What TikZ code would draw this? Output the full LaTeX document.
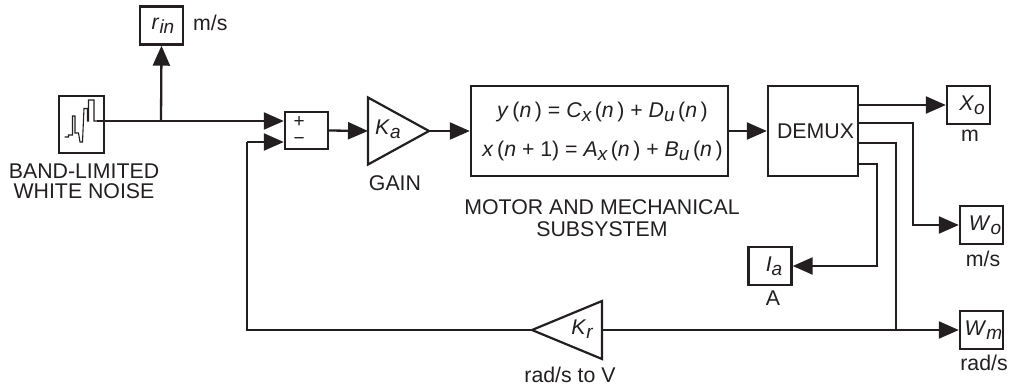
\documentclass[tikz,border=0pt]{standalone}
\usepackage{fontspec}
\setmainfont{Liberation Sans}
\usetikzlibrary{arrows.meta,shapes.geometric}
\definecolor{inkgray}{HTML}{231F20}
\newcommand{\lowsub}[1]{\raisebox{-4pt}{\fontsize{19}{19}\selectfont\itshape #1}}
\newcommand{\ital}[1]{\textit{#1}}
\tikzset{
  sig/.style={line width=2.3pt, inkgray, -{Triangle[length=20pt,width=17pt]}},
  wire/.style={line width=2.3pt, inkgray},
  blockbox/.style={draw=inkgray, line width=2.4pt, inner sep=0pt, text=inkgray, font=\fontsize{21.3}{20}\selectfont},
  portbox/.style={blockbox, minimum width=43pt, minimum height=38pt},
  gaintri/.style={draw=inkgray, line width=2.2pt, isosceles triangle, isosceles triangle stretches, inner sep=0pt, outer sep=0pt},
  caption/.style={inner sep=0pt, text=inkgray, font=\fontsize{21.3}{20}\selectfont, align=center},
}
\begin{document}
\begin{tikzpicture}[x=1pt,y=-1pt]
        \useasboundingbox (0,0) rectangle (1012,389);
        % source and tap
        \node [blockbox, minimum width=45pt, minimum height=57pt] (noise) at (81.5,124.5) {};
        \draw [inkgray, line width=1.1pt] (64.5,137) -- (68.5,137) -- (68.5,135) -- (72.5,135) -- (72.5,116) -- (75,116) -- (75,133) -- (78.5,133) -- (80,142) -- (82.5,142) -- (84,108.5) -- (87.5,108.5) -- (87.5,121) -- (88.5,121) -- (88.5,100) -- (94,100) -- (94,121) -- (98,121);
        \coordinate (noiseout) at (97,121);
        \coordinate (tap) at (161,121);
        \node [caption] (noisetxt) at (84,181) {BAND-LIMITED\\WHITE NOISE};
        \node [portbox] (rin) at (161.5,25.5) {\hspace{3pt}\ital{r}\lowsub{in}};
        \node [caption, anchor=west] (rinunit) at (193,23) {m/s};
        % forward path
        \node [blockbox, minimum width=43pt, minimum height=37pt, align=center, font=\fontsize{19}{20}\selectfont] (sum) at (306.5,130.5) {\hspace*{-13pt}+\\[-3pt]\hspace*{-13pt}−};
        \node [gaintri, minimum width=67pt, minimum height=61pt, anchor=apex] (ka) at (429,131) {};
        \node [caption] (katxt) at (388,129) {\ital{K}\lowsub{a}};
        \node [caption] (gaintxt) at (395,183) {GAIN};
        \node [blockbox, minimum width=257pt, minimum height=90pt, align=center] (motor) at (599.5,131) {\hspace*{6pt}\ital{y}\,(\ital{n}\,) = \ital{C}\lowsub{x}\,(\ital{n}\,) + \ital{D}\lowsub{u}\,(\ital{n}\,)\\[19pt]\hspace*{6pt}\ital{x}\,(\ital{n} + 1) = \ital{A}\lowsub{x}\,(\ital{n}\,) + \ital{B}\lowsub{u}\,(\ital{n}\,)};
        \node [caption] (motortxt) at (602,218) {MOTOR AND MECHANICAL\\[2pt]SUBSYSTEM};
        \node [blockbox, minimum width=90pt, minimum height=90pt] (demux) at (813,131) {\hspace{5pt}DEMUX};
        % outputs
        \node [portbox] (xo) at (968.5,105) {\hspace{7pt}\ital{X}\lowsub{o}};
        \node [caption] (xounit) at (970,136) {m};
        \node [portbox] (wo) at (981.5,225) {\hspace{7pt}\ital{W}\lowsub{o}};
        \node [caption] (wounit) at (983,259) {m/s};
        \node [portbox] (ia) at (770,266) {\hspace{8pt}\ital{I}\lowsub{a}};
        \node [caption] (iaunit) at (773,298) {A};
        \node [portbox] (wm) at (981.5,330) {\hspace{4pt}\ital{W}\lowsub{m}};
        \node [caption] (wmunit) at (984,363) {rad/s};
        % feedback
        \node [gaintri, shape border rotate=180, minimum width=58pt, minimum height=70pt, anchor=apex] (kr) at (532,330) {};
        \node [caption] (krtxt) at (582,329) {\ital{K}\lowsub{r}};
        \node [caption] (krunit) at (570,375) {rad/s to V};
        \coordinate (porta) at (858,105);
        \coordinate (portb) at (858,123);
        \coordinate (portc) at (858,143);
        \coordinate (portd) at (858,164);
        \coordinate (turnb) at (913,123);
        \coordinate (turnc) at (896,143);
        \coordinate (turnd) at (877,164);
        \coordinate (merge) at (896,330);
        \coordinate (back) at (247,330);
        \coordinate (backup) at (247,142);
        \draw [wire] (noiseout) -- (tap);
        \draw [sig] (tap) -- (rin.south);
        \draw [sig] (tap) -- (tap -| sum.west);
        \draw [sig] (backup) -- (backup -| sum.west);
        \draw [sig] (sum.east) -- (ka.lower side);
        \draw [sig] (ka.apex) -- (motor.west);
        \draw [sig] (motor.east) -- (demux.west);
        \draw [sig] (porta) -- (xo.west);
        \draw [sig] (portb) -- (turnb) |- (wo.west);
        \draw [sig] (portd) -- (turnd) |- (ia.east);
        \draw [wire] (portc) -- (turnc) -- (merge);
        \draw [sig] (kr.lower side) -- (wm.west);
        \draw [wire] (kr.apex) -- (back) -- (backup);
      \end{tikzpicture}
\end{document}
